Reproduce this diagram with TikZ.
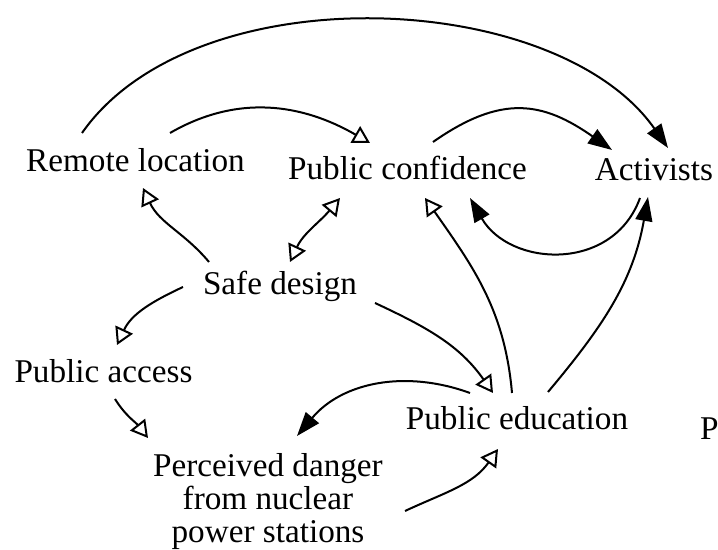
\documentclass[tikz,border=0pt]{standalone}
\usepackage{fontspec}
\setmainfont{Liberation Serif}
\usetikzlibrary{arrows.meta,calc}

\begin{document}
\begin{tikzpicture}[x=0.5pt, y=0.5pt, line width=1pt,
  every node/.style={font=\fontsize{16.6}{16.5}\selectfont, inner sep=0pt},
  openhead/.style={-{Triangle[open,length=8.5pt,width=9.5pt]}},
  fullhead/.style={-{Triangle[length=12pt,width=8.5pt]}},
  bothheads/.style={{Triangle[open,length=8.5pt,width=9.5pt]}-{Triangle[open,length=8.5pt,width=9.5pt]}}]

\useasboundingbox (0,0) rectangle (718,550);

\node[anchor=base] (remote) at (135.5,378) {Remote location};
\node[anchor=base] (conf) at (407.5,370) {Public confidence};
\node[anchor=base] (activ) at (654,369) {Activists};
\node[anchor=base] (safe) at (280,255) {Safe design};
\node[anchor=base] (access) at (103.5,167) {Public access};
\node[anchor=base] (educ) at (517,120) {Public education};
\node[anchor=north, align=center] (danger) at (268,98) {Perceived danger\\from nuclear\\power stations};
\node[anchor=base west] (pcut) at (699,110) {P};

% top row
\draw[fullhead] ($(remote.base)+(-53.5,39)$) to[out=55,in=125,looseness=0.85] ($(activ.base)+(14,33)$);
\draw[openhead] ($(remote.base)+(34.5,39)$) to[out=30,in=150] ($(conf.base)+(-37.5,37)$);
\draw[fullhead] ($(conf.base)+(25.5,38)$) to[out=35,in=145,looseness=1.2] ($(activ.base)+(-42,31)$);
\draw[fullhead] ($(activ.base)+(-14,-17)$) to[out=-110,in=-60,looseness=1.2] ($(conf.base)+(62.5,-18)$);

% from safe design
\draw[openhead] ($(safe.base)+(-71,33)$) to[out=130,in=-65] ($(remote.base)+(7.5,-16)$);
\draw[bothheads] ($(safe.base)+(10,33)$) to[out=65,in=-130] ($(conf.base)+(-67.5,-18)$);
\draw[openhead] ($(safe.base)+(-97,8)$) to[out=205,in=65] ($(access.base)+(13.5,38)$);
\draw[openhead] ($(safe.base)+(95,-8)$) to[out=-25,in=125] ($(educ.base)+(-24,37)$);

% from public education
\draw[openhead] ($(educ.base)+(-5,37)$) to[out=95,in=-55] ($(conf.base)+(17.5,-18)$);
\draw[fullhead] ($(educ.base)+(31,38)$) to[out=50,in=-100] ($(activ.base)+(-6,-16)$);
\draw[fullhead] ($(educ.base)+(-47,37)$) to[out=160,in=50] ($(danger.north)+(29,16)$);

% bottom
\draw[openhead] ($(access.base)+(11.5,-16)$) to[out=-58,in=128] ($(danger.north)+(-120,14)$);
\draw[openhead] ($(danger.north)+(137,-59)$) to[out=25,in=-125] ($(educ.base)+(-19,-19)$);
\end{tikzpicture}
\end{document}
